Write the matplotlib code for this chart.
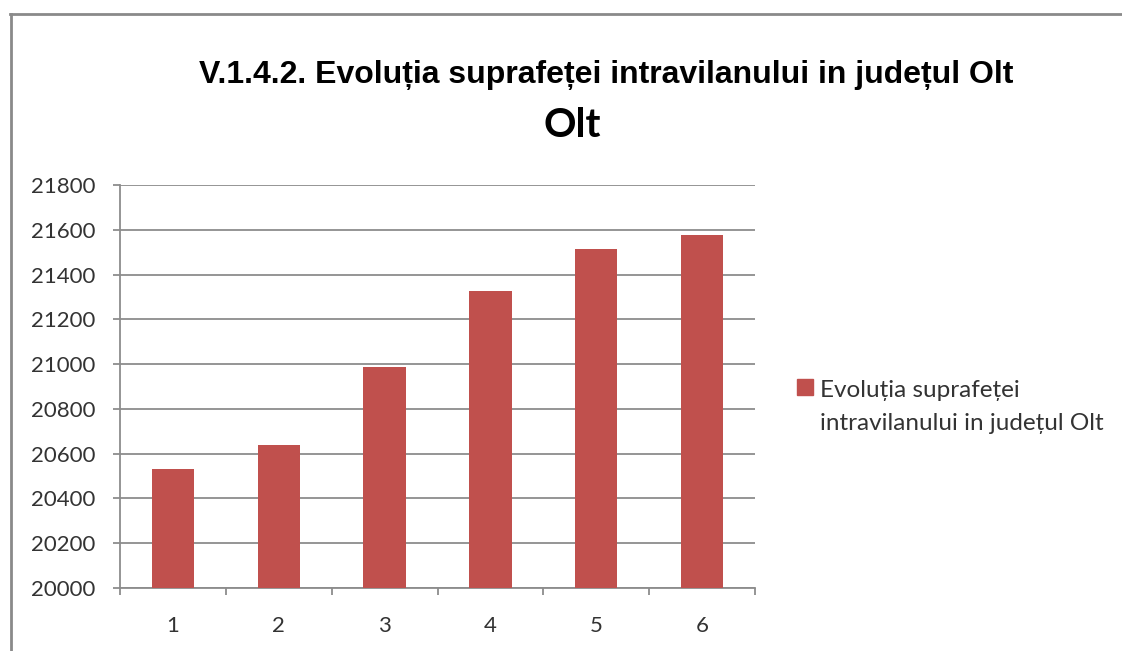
import numpy as np
import matplotlib
matplotlib.use("Agg")
import matplotlib.pyplot as plt
from matplotlib.lines import Line2D
from matplotlib.patches import Rectangle

# Data
categories = ['1', '2', '3', '4', '5', '6']
values = [20532, 20640, 20985, 21325, 21515, 21578]
yticks = [20000, 20200, 20400, 20600, 20800, 21000, 21200, 21400, 21600, 21800]
series_name = 'Evoluția suprafeței\nintravilanului in județul Olt'
title = 'V.1.4.2. Evoluția suprafeței intravilanului in județul Olt'
subtitle = 'Olt'

bar_color = '#C0504D'
grid_color = '#8c8c8c'
text_color = '#333333'

W, H = 1122, 651
fig = plt.figure(figsize=(W / 100, H / 100), dpi=100)
ax = fig.add_axes([120 / W, 1 - 588 / H, 635 / W, 403 / H])

x = np.arange(len(categories))
ax.bar(x, values, width=0.4, color=bar_color, zorder=3)

ax.set_xlim(-0.5, len(categories) - 0.5)
ax.set_ylim(yticks[0], yticks[-1])
ax.set_yticks(yticks)
ax.yaxis.grid(True, color=grid_color, lw=1.3)
ax.set_axisbelow(True)

for s in ['top', 'right']:
    ax.spines[s].set_visible(False)
for s in ['left', 'bottom']:
    ax.spines[s].set_color(grid_color)
    ax.spines[s].set_linewidth(1.3)

ax.tick_params(axis='y', length=5, width=1.3, color=grid_color, pad=13,
               labelsize=16, labelcolor=text_color)
for lab in ax.get_yticklabels():
    lab.set_family('Lato')

# category labels centred, tick marks between categories
ax.set_xticks(x)
ax.set_xticklabels(categories, family='Lato', fontsize=16, color=text_color)
ax.tick_params(axis='x', which='major', length=0, pad=20)
ax.set_xticks(np.arange(-0.5, len(categories), 1.0), minor=True)
ax.tick_params(axis='x', which='minor', length=5, width=1.3, color=grid_color)

# titles
fig.text(606 / W, 1 - 83 / H, title, ha='center', va='baseline',
         fontsize=23, fontweight='bold', family='Liberation Sans', color='black')
fig.text(572 / W, 1 - 137 / H, subtitle, ha='center', va='baseline',
         fontsize=29, fontweight='bold', family='Lato', color='black')

# legend
fig.add_artist(Rectangle((797 / W, 1 - 395 / H), 16 / W, 16 / H,
                         transform=fig.transFigure, color=bar_color))
for i, line in enumerate(series_name.split('\n')):
    fig.text(820 / W, 1 - (397 + 33 * i) / H, line, ha='left', va='baseline',
             fontsize=17.5, family='Lato', color=text_color)

# frame lines of the screenshot
fig.add_artist(Line2D([10 / W, 1], [1 - 14 / H, 1 - 14 / H], color='#8a8a8a',
                      lw=2, transform=fig.transFigure))
fig.add_artist(Line2D([11 / W, 11 / W], [0, 1 - 14 / H], color='#8a8a8a',
                      lw=2, transform=fig.transFigure))

fig.savefig('out.png', dpi=100)
